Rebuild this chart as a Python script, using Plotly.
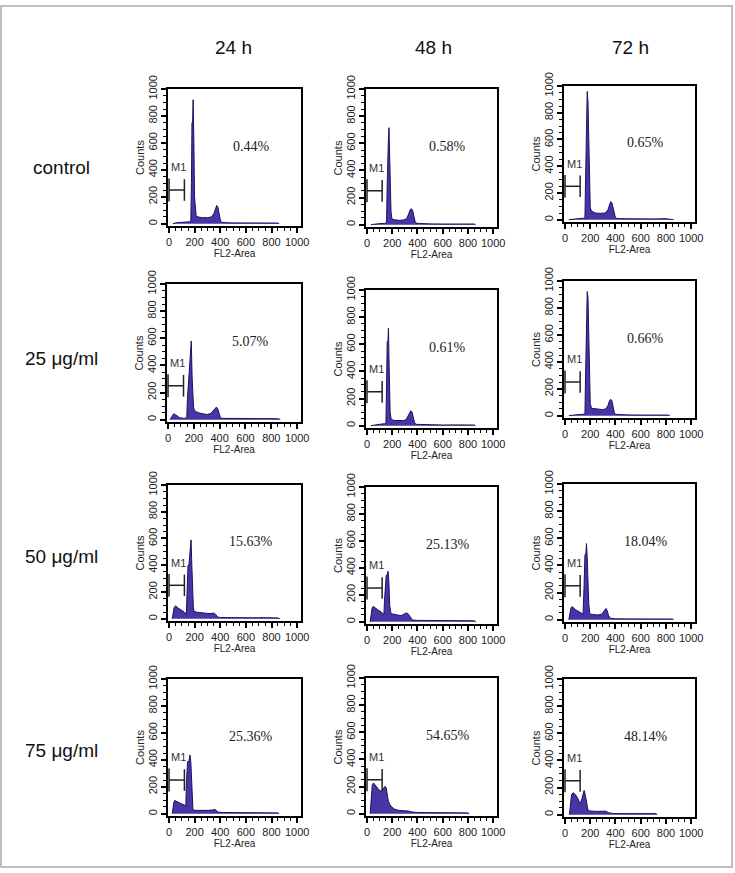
import plotly.graph_objects as go

col_labels = ["24 h", "48 h", "72 h"]
row_labels = ["control", "25 μg/ml", "50 μg/ml", "75 μg/ml"]
percents = [["0.44%", "0.58%", "0.65%"],
            ["5.07%", "0.61%", "0.66%"],
            ["15.63%", "25.13%", "18.04%"],
            ["25.36%", "54.65%", "48.14%"]]

# FL2-Area channel values and counts
c24_x = [30, 60, 100, 140, 170, 175, 179, 184, 188, 190, 194, 199, 205, 212, 230, 260, 300, 330, 350, 362, 372, 382, 392, 402, 412, 430, 500, 600, 700, 800, 850, 860]
c24_y = [0, 8, 10, 12, 15, 300, 750, 740, 920, 600, 600, 200, 80, 55, 50, 45, 45, 50, 75, 115, 135, 120, 60, 20, 10, 8, 6, 5, 8, 6, 5, 0]
c48_x = [30, 60, 100, 140, 155, 160, 165, 170, 174, 178, 183, 190, 196, 205, 230, 260, 290, 315, 330, 342, 352, 362, 372, 382, 395, 430, 500, 600, 700, 800, 850, 860]
c48_y = [0, 5, 8, 10, 15, 300, 640, 640, 715, 500, 250, 100, 50, 38, 35, 32, 35, 45, 80, 110, 118, 105, 60, 20, 10, 8, 6, 5, 6, 8, 5, 0]
c72_x = [30, 60, 100, 140, 158, 162, 167, 172, 176, 182, 188, 194, 200, 210, 240, 280, 320, 340, 352, 362, 372, 382, 390, 400, 430, 500, 600, 700, 800, 850, 860]
c72_y = [0, 5, 8, 10, 15, 250, 590, 930, 960, 880, 590, 250, 90, 65, 50, 48, 50, 75, 110, 135, 125, 80, 30, 12, 8, 6, 5, 6, 8, 5, 0]

d25_24_x = [15, 30, 44, 60, 90, 120, 145, 150, 160, 170, 175, 180, 187, 192, 198, 205, 215, 240, 270, 300, 330, 350, 365, 375, 385, 395, 405, 420, 500, 600, 700, 800, 860, 870]
d25_24_y = [0, 25, 44, 35, 15, 10, 12, 150, 300, 470, 470, 580, 300, 150, 90, 70, 60, 50, 42, 38, 45, 65, 85, 93, 80, 45, 15, 10, 8, 7, 8, 8, 6, 0]
d25_48_x = [30, 60, 100, 140, 150, 155, 160, 166, 170, 174, 178, 183, 190, 196, 205, 230, 260, 290, 310, 325, 337, 347, 357, 367, 377, 390, 430, 500, 600, 700, 800, 850, 860]
d25_48_y = [0, 6, 10, 15, 18, 300, 620, 620, 720, 500, 250, 100, 55, 45, 40, 38, 36, 38, 45, 70, 100, 110, 100, 60, 20, 10, 8, 6, 5, 6, 8, 5, 0]
d25_72_x = [30, 60, 100, 140, 158, 162, 168, 172, 176, 182, 188, 194, 200, 210, 240, 270, 300, 325, 340, 352, 362, 372, 382, 390, 400, 430, 500, 600, 700, 800, 820, 830]
d25_72_y = [0, 5, 8, 10, 15, 250, 617, 885, 922, 880, 617, 250, 90, 55, 52, 50, 45, 52, 75, 110, 122, 110, 70, 25, 10, 8, 6, 5, 6, 8, 5, 0]

d50_24_x = [25, 31, 40, 52, 70, 100, 120, 135, 140, 148, 155, 165, 172, 178, 184, 190, 196, 205, 220, 250, 290, 320, 345, 356, 366, 380, 400, 450, 550, 650, 750, 850, 865]
d50_24_y = [0, 55, 85, 96, 80, 62, 50, 30, 180, 398, 398, 540, 590, 400, 177, 80, 55, 50, 48, 45, 40, 38, 42, 40, 30, 12, 9, 8, 7, 7, 8, 6, 0]
d50_48_x = [25, 31, 40, 49, 65, 90, 115, 134, 138, 145, 152, 160, 167, 173, 180, 190, 210, 240, 270, 290, 310, 325, 340, 360, 400, 500, 600, 700, 800, 850, 862]
d50_48_y = [0, 60, 100, 114, 105, 85, 70, 53, 150, 300, 345, 345, 374, 300, 120, 60, 58, 50, 45, 55, 65, 60, 35, 12, 10, 9, 8, 8, 9, 7, 0]
d50_72_x = [30, 39, 48, 60, 80, 110, 135, 143, 151, 158, 165, 170, 175, 182, 188, 195, 205, 230, 260, 290, 305, 318, 325, 335, 345, 360, 400, 500, 600, 700, 800, 850, 860]
d50_72_y = [0, 60, 90, 95, 75, 60, 48, 41, 249, 480, 480, 561, 480, 249, 120, 50, 40, 37, 35, 40, 60, 80, 83, 65, 30, 10, 7, 6, 5, 5, 7, 5, 0]

d75_24_x = [25, 31, 38, 45, 60, 80, 100, 120, 131, 136, 145, 155, 163, 170, 175, 180, 186, 192, 200, 230, 270, 310, 340, 355, 365, 380, 420, 500, 600, 700, 800, 850, 860]
d75_24_y = [0, 60, 85, 98, 90, 80, 72, 65, 56, 240, 387, 387, 436, 387, 240, 100, 40, 28, 25, 25, 24, 25, 28, 32, 28, 12, 9, 8, 7, 7, 8, 6, 0]
d75_48_x = [25, 34, 42, 52, 65, 80, 95, 112, 125, 135, 143, 152, 160, 169, 180, 195, 221, 250, 290, 325, 360, 400, 500, 600, 700, 800, 810]
d75_48_y = [0, 150, 215, 226, 210, 195, 175, 165, 180, 195, 202, 190, 140, 92, 70, 50, 32, 25, 22, 20, 12, 9, 8, 7, 8, 6, 0]
d75_72_x = [35, 44, 52, 65, 80, 95, 110, 122, 135, 145, 151, 160, 170, 182, 195, 220, 260, 300, 325, 345, 380, 450, 550, 650, 720, 730]
d75_72_y = [0, 110, 150, 162, 150, 130, 100, 81, 120, 165, 179, 150, 80, 32, 28, 25, 24, 26, 25, 15, 9, 8, 7, 7, 8, 0]

hist_x = [[c24_x, c48_x, c72_x],
          [d25_24_x, d25_48_x, d25_72_x],
          [d50_24_x, d50_48_x, d50_72_x],
          [d75_24_x, d75_48_x, d75_72_x]]
hist_y = [[c24_y, c48_y, c72_y],
          [d25_24_y, d25_48_y, d25_72_y],
          [d50_24_y, d50_48_y, d50_72_y],
          [d75_24_y, d75_48_y, d75_72_y]]

x_ticks = [0, 200, 400, 600, 800, 1000]
y_ticks = [0, 200, 400, 600, 800, 1000]

# M1 marker gate (channel range) and level
m1_x0, m1_x1, m1_level = 0, 120, 250

W, H = 735, 873
# panel boxes in pixels: (left, right, top, bottom)
boxes = [[(168, 301, 89, 226), (366, 497, 89, 227), (564, 695, 86, 222)],
         [(167, 301, 284, 422), (366, 497, 290, 428), (564, 695, 281, 418)],
         [(168, 301, 485, 621), (366, 497, 487, 624), (564, 695, 484, 622)],
         [(168, 301, 679, 816), (366, 497, 678, 816), (564, 695, 679, 817)]]

FILL = "#4535a5"
TXT = "#222222"
fig = go.Figure()
annotations = []
shapes = []
tickfont = dict(family="Arial", size=11, color=TXT)
for r in range(4):
    for c in range(3):
        n = r * 3 + c + 1
        xa = f"x{n}"
        ya = f"y{n}"
        fig.add_trace(go.Scatter(x=hist_x[r][c], y=hist_y[r][c], xaxis=xa, yaxis=ya,
                                 mode="lines", fill="tozeroy", fillcolor=FILL,
                                 line=dict(color="#1c1260", width=1), showlegend=False,
                                 hoverinfo="skip"))
        l, rr, t, b = boxes[r][c]
        fig.layout[f"xaxis{n}"] = dict(
            domain=[l / W, rr / W], anchor=ya, range=[-8, 1030], automargin=False,
            tickvals=x_ticks, ticks="outside", ticklen=5, tickwidth=1.5, tickcolor="black",
            minor=dict(dtick=50, tick0=0, ticks="outside", ticklen=3, tickcolor="black", tickwidth=1),
            showline=True, linecolor="black", linewidth=1.8, mirror=True,
            showgrid=False, zeroline=False, tickfont=tickfont,
            title=dict(text="FL2-Area", font=dict(family="Arial", size=10, color=TXT), standoff=0),
            fixedrange=True)
        fig.layout[f"yaxis{n}"] = dict(
            domain=[1 - b / H, 1 - t / H], anchor=xa, range=[-17, 1000], automargin=False,
            tickvals=y_ticks, ticks="outside", ticklen=5, tickwidth=1.5, tickcolor="black",
            minor=dict(dtick=50, tick0=0, ticks="outside", ticklen=3, tickcolor="black", tickwidth=1),
            tickangle=-90,
            showline=True, linecolor="black", linewidth=1.8, mirror=True,
            showgrid=False, zeroline=False, tickfont=tickfont,
            title=dict(text="Counts", font=dict(family="Arial", size=11, color=TXT), standoff=0),
            fixedrange=True)
        # M1 gate marker
        shapes.append(dict(type="line", xref=xa, yref=ya, x0=m1_x0, x1=m1_x1, y0=m1_level, y1=m1_level,
                           line=dict(color="#222", width=1.5)))
        shapes.append(dict(type="line", xref=xa, yref=ya, x0=m1_x0, x1=m1_x0, y0=165, y1=335,
                           line=dict(color="#222", width=1.5)))
        shapes.append(dict(type="line", xref=xa, yref=ya, x0=m1_x1, x1=m1_x1, y0=170, y1=330,
                           line=dict(color="#222", width=1.5)))
        annotations.append(dict(xref=xa, yref=ya, x=75, y=420, text="M1", showarrow=False,
                                xanchor="center", yanchor="middle",
                                font=dict(family="Arial", size=11, color="#333")))
        annotations.append(dict(xref=xa, yref=ya, x=640, y=575, text=percents[r][c], showarrow=False,
                                xanchor="center", yanchor="middle",
                                font=dict(family="Liberation Serif", size=14, color="#222")))

col_x = [233, 433, 630]
for c in range(3):
    annotations.append(dict(xref="paper", yref="paper", x=col_x[c] / W, y=1 - 47 / H,
                            xanchor="center", yanchor="middle",
                            text=col_labels[c], showarrow=False,
                            font=dict(family="Arial", size=19, color="#111")))
row_y = [167, 358, 556, 750]
for r in range(4):
    annotations.append(dict(xref="paper", yref="paper", x=62 / W, y=1 - row_y[r] / H,
                            xanchor="center", yanchor="middle",
                            text=row_labels[r], showarrow=False,
                            font=dict(family="Arial", size=19, color="#111")))

shapes.append(dict(type="rect", xref="paper", yref="paper", x0=1 / W, x1=732 / W,
                   y0=1 - 867 / H, y1=1 - 6 / H, line=dict(color="#aaa", width=1.5)))

fig.update_layout(template="none", width=W, height=H,
                  margin=dict(l=0, r=0, t=0, b=0, autoexpand=False),
                  font=dict(family="Arial", color=TXT),
                  paper_bgcolor="white", plot_bgcolor="white",
                  annotations=annotations, shapes=shapes)
fig.write_html("out.html")
